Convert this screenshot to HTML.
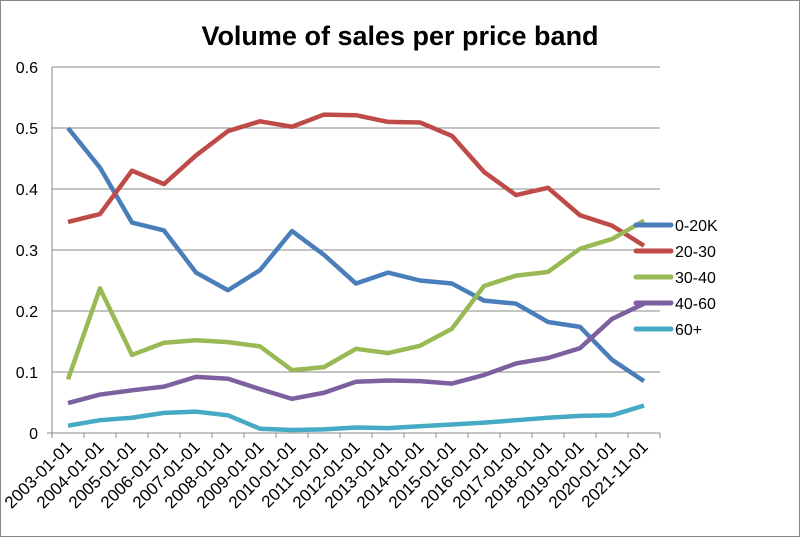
<!DOCTYPE html><html><head><style>body{margin:0;background:#fff}svg{display:block}</style></head><body>
<svg id="s" width="800" height="537" xmlns="http://www.w3.org/2000/svg" font-family="Liberation Sans, sans-serif">
<rect x="0.5" y="0.5" width="799" height="536" fill="#fff" stroke="#888"/>
<text x="400" y="45" text-anchor="middle" font-size="27" font-weight="bold">Volume of sales per price band</text>
</svg>
<script>
const s=document.getElementById('s'),NS='http://www.w3.org/2000/svg';
function el(t,a,txt){const e=document.createElementNS(NS,t);for(const k in a)e.setAttribute(k,a[k]);if(txt!=null)e.textContent=txt;s.appendChild(e);return e;}
const X0=52,W=32,Y0=433,U=610;
for(let i=0;i<=6;i++){const y=Y0-i*61;
 if(i>0)el('line',{x1:X0,x2:660,y1:y,y2:y,stroke:'#888','stroke-width':1});
 el('text',{x:38,y:y+6,'text-anchor':'end','font-size':16},(i/10).toString());}
el('line',{x1:X0,x2:X0,y1:67,y2:Y0+5,stroke:'#888'});
el('line',{x1:X0-5,x2:660,y1:Y0,y2:Y0,stroke:'#888'});
const labs=[];for(let y=2003;y<=2020;y++)labs.push(y+'-01-01');labs.push('2021-11-01');
for(let i=0;i<=19;i++)el('line',{x1:X0+i*W,x2:X0+i*W,y1:Y0,y2:Y0+5,stroke:'#888'});
labs.forEach((l,i)=>{const x=X0+W/2+i*W+5,y=Y0+15;el('text',{x:x,y:y,'text-anchor':'end','font-size':17,transform:`rotate(-45 ${x} ${y})`},l);});
const D=[
['0-20K','#4a7ebb',[0.50,0.435,0.345,0.332,0.263,0.234,0.267,0.331,0.292,0.245,0.263,0.25,0.245,0.217,0.212,0.182,0.174,0.12,0.085]],
['20-30','#be4b48',[0.346,0.359,0.43,0.408,0.455,0.495,0.511,0.502,0.522,0.521,0.510,0.509,0.487,0.428,0.39,0.402,0.357,0.34,0.307]],
['30-40','#98b954',[0.088,0.237,0.128,0.148,0.152,0.149,0.142,0.103,0.108,0.138,0.131,0.143,0.171,0.241,0.258,0.264,0.302,0.318,0.348]],
['40-60','#7d60a0',[0.049,0.063,0.07,0.076,0.092,0.089,0.072,0.056,0.066,0.084,0.086,0.085,0.081,0.095,0.114,0.123,0.139,0.187,0.212]],
['60+','#46aac5',[0.012,0.021,0.025,0.033,0.035,0.029,0.007,0.005,0.006,0.009,0.008,0.011,0.014,0.017,0.021,0.025,0.028,0.029,0.045]]];
D.forEach((d,k)=>{el('polyline',{points:d[2].map((v,i)=>(X0+W/2+i*W)+','+(Y0-v*U)).join(' '),fill:'none',stroke:d[1],'stroke-width':4.5,'stroke-linejoin':'round'});});
D.forEach((d,k)=>{const y=225+k*26;el('line',{x1:636,x2:671,y1:y,y2:y,stroke:d[1],'stroke-width':5,'stroke-linecap':'round'});
 el('text',{x:675,y:y+6,'font-size':16},d[0]);});
</script></body></html>
